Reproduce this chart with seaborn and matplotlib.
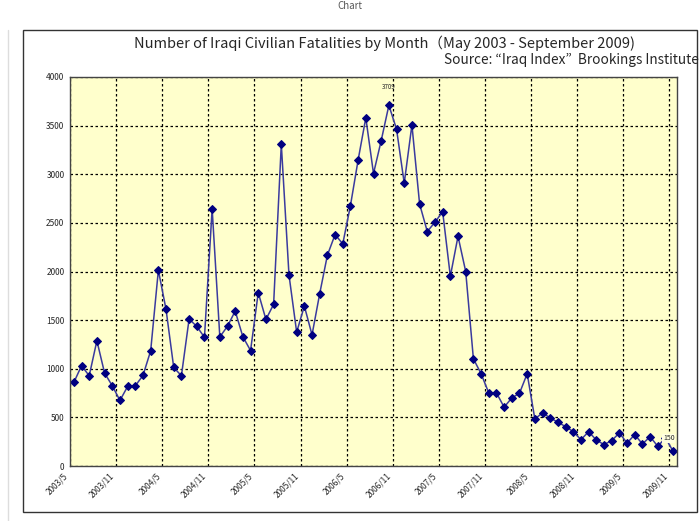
import matplotlib
matplotlib.use("Agg")
import matplotlib.pyplot as plt
import seaborn as sns
import pandas as pd
from matplotlib.patches import Rectangle

# monthly civilian fatalities, 2003/5 .. 2009/11
fatalities = [
    859, 1031, 928, 1288, 956, 825, 674, 818, 825, 931,
    1185, 2013, 1610, 1013, 928, 1511, 1436, 1323, 2644, 1327,
    1438, 1593, 1329, 1187, 1783, 1507, 1662, 3309, 1965, 1376,
    1645, 1348, 1773, 2168, 2380, 2284, 2678, 3147, 3581, 3007,
    3345, 3709, 3463, 2908, 3507, 2694, 2411, 2507, 2615, 1951,
    2362, 2000, 1103, 949, 752, 752, 605, 700, 748, 949,
    484, 546, 494, 450, 405, 353, 271, 353, 267, 220,
    261, 340, 236, 323, 226, 302, 202, 290, 150,
]
tick_labels = ["2003/5", "2003/11", "2004/5", "2004/11", "2005/5", "2005/11",
               "2006/5", "2006/11", "2007/5", "2007/11", "2008/5", "2008/11",
               "2009/5", "2009/11"]
y_ticks = [0, 500, 1000, 1500, 2000, 2500, 3000, 3500, 4000]

title = "Number of Iraqi Civilian Fatalities by Month（May 2003 - September 2009)"
source = "Source: “Iraq Index”  Brookings Institute"

df = pd.DataFrame({"month": range(len(fatalities)), "deaths": fatalities})

sns.set_theme(style="white")
plt.rcParams["font.family"] = ["Noto Sans CJK JP", "DejaVu Sans"]

fig = plt.figure(figsize=(6.99, 5.21), dpi=100)
fig.patch.set_facecolor("white")
ax = fig.add_axes([70 / 699, 1 - 466 / 521, 607 / 699, 389 / 521])
ax.set_facecolor("#FFFFCC")

sns.lineplot(data=df, x="month", y="deaths", ax=ax, color="#3A3A9E", linewidth=1.1,
             marker="D", markersize=4.2, markerfacecolor="#000080",
             markeredgecolor="#000080")

ax.set_xlim(-0.5, len(fatalities) - 0.5)
ax.set_ylim(0, 4000)
ax.set_yticks(y_ticks)
ax.set_yticklabels([str(v) for v in y_ticks], fontsize=6)
ax.set_xticks([-0.5 + 6 * i for i in range(len(tick_labels))])
ax.set_xticklabels(tick_labels, rotation=45, ha="right", fontsize=6)
ax.tick_params(axis="both", length=0, pad=4)
ax.set_xlabel("")
ax.set_ylabel("")
ax.grid(True, color="black", linestyle=(0, (2, 2)), linewidth=0.9)
for s in ax.spines.values():
    s.set_color("#444444")
    s.set_linewidth(1.0)

# value labels at the peak and the last month
peak = fatalities.index(max(fatalities))
ax.annotate(str(fatalities[peak]), (peak, fatalities[peak]), xytext=(0, 12),
            textcoords="offset points", ha="center", fontsize=4.5)
ax.annotate("150", (len(fatalities) - 1, fatalities[-1]), xytext=(-3, 8),
            textcoords="offset points", ha="center", fontsize=5,
            bbox=dict(boxstyle="square,pad=0.1", fc="#FFFFE0", ec="none"))

fig.text(385 / 699, 1 - 43 / 521, title, ha="center", va="center", fontsize=10.5)
fig.text(699 / 699, 1 - 60 / 521, source, ha="right", va="center", fontsize=9.8)
fig.text(0.5, 0.999, "Chart", ha="center", va="top", fontsize=7, color="#555555")

# chart border
fig.patches.append(Rectangle((23 / 699, 1 - 512 / 521), 674 / 699, 482 / 521,
                             transform=fig.transFigure, fill=False,
                             edgecolor="#333333", linewidth=1.0))
fig.lines.append(plt.Line2D([8 / 699, 8 / 699], [0, 1 - 30 / 521],
                            transform=fig.transFigure, color="#DDDDDD", linewidth=1))

fig.savefig("out.png", dpi=100)
